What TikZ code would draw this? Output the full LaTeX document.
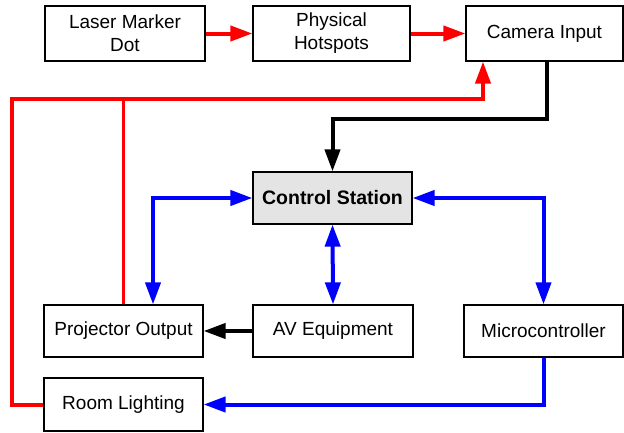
\documentclass[tikz,border=0pt]{standalone}
\usepackage{fontspec}
\setmainfont{Liberation Sans}
\usepackage{tikz}
\usetikzlibrary{arrows.meta,positioning}
\definecolor{ctrlgray}{RGB}{228,228,228}
\definecolor{linkred}{RGB}{255,0,0}
\definecolor{linkblue}{RGB}{0,0,255}
\tikzset{
  block/.style={rectangle, draw=black, line width=1.2pt, fill=white,
                inner sep=0pt, minimum width=#1, minimum height=53pt,
                align=center, font=\fontsize{19pt}{23pt}\selectfont},
  block/.default=160pt,
  ctrlblock/.style={block=159pt, fill=ctrlgray, minimum height=52pt,
                    font=\fontsize{19.5pt}{23pt}\selectfont\bfseries},
  tip/.style={Triangle[length=22pt,width=15pt]},
  redlink/.style={draw=linkred, line width=4pt, -{Triangle[length=22pt,width=15pt]}},
  redbranch/.style={draw=linkred, line width=2.5pt},
  blacklink/.style={draw=black, line width=4pt, -{Triangle[length=22pt,width=15pt]}},
  bluelink/.style={draw=linkblue, line width=4pt, -{Triangle[length=22pt,width=15pt]}},
  bluedouble/.style={draw=linkblue, line width=4pt,
                     {Triangle[length=22pt,width=15pt]}-{Triangle[length=22pt,width=15pt]}},
}

\begin{document}
\begin{tikzpicture}[x=1pt,y=-1pt]
  \useasboundingbox (0,0) rectangle (624,432);

  % top row
  \node[block, minimum height=55pt] (laser) at (125,33.5) {Laser Marker\\Dot};
  \node[block=157pt, minimum height=55pt] (hotspots) at (331.5,33.5) {Physical\\Hotspots};
  \node[block=157pt, minimum height=55pt] (camera) at (544.5,33.5) {Camera Input};

  % centre
  \node[ctrlblock] (control) at (332.5,198) {Control Station};

  % bottom rows
  \node[block=159pt, minimum height=52pt] (projector) at (123.5,331) {Projector Output};
  \node[block, minimum height=52pt] (avequip) at (333,331) {AV Equipment};
  \node[block=159pt, minimum height=52pt] (micro) at (543.5,331) {Microcontroller};
  \node[block=159pt] (lighting) at (123.5,404.5) {Room Lighting};

  \coordinate (redbus) at (12,99);
  \coordinate (blackbend) at (547,119);
  \coordinate (blueleft) at (153,198);

  % red paths
  \draw[redlink] (laser.east) -- (hotspots.west);
  \draw[redlink] (hotspots.east) -- (camera.west);
  \draw[redbranch] (projector.north) -- (projector.north |- redbus);
  \draw[redlink] (lighting.west) -| (redbus) -| ([xshift=-61.5pt]camera.south);

  % black paths
  \draw[blacklink] (camera.south -| blackbend) -- (blackbend) -| (control.north);
  \draw[blacklink] (avequip.west) -- (projector.east);

  % blue paths
  \draw[bluedouble] (control.west) -| (blueleft |- projector.north);
  \draw[bluedouble] (control.south) -- (avequip.north);
  \draw[bluedouble] (control.east) -| (micro.north);
  \draw[bluelink] (micro.south) |- (lighting.east);
\end{tikzpicture}
\end{document}
